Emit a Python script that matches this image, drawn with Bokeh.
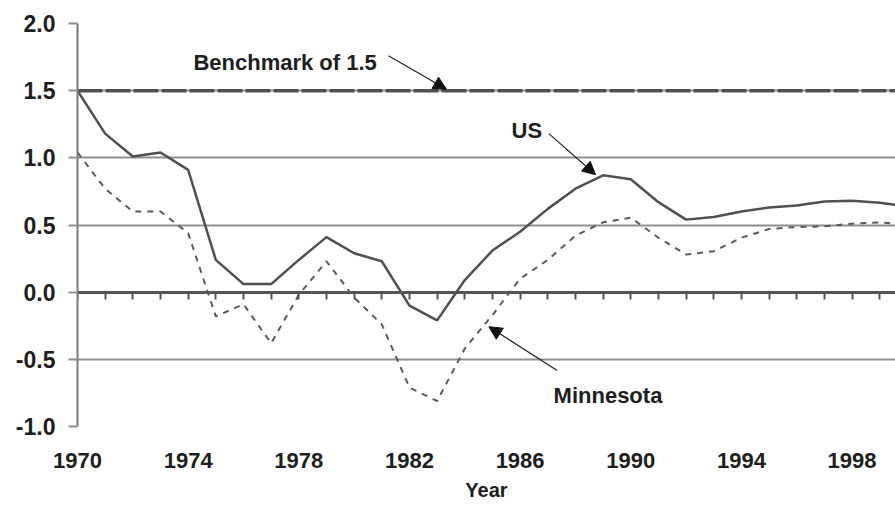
from bokeh.plotting import figure
from bokeh.models import Range1d, FixedTicker, LinearAxis, Label, Arrow, NormalHead, Title
from bokeh.embed import file_html
from bokeh.resources import INLINE

# ---- data ----
years = list(range(1970, 2001))
us = [1.50, 1.18, 1.01, 1.04, 0.91, 0.24, 0.06, 0.06, 0.24, 0.41,
      0.29, 0.23, -0.10, -0.21, 0.09, 0.31, 0.45, 0.62, 0.77, 0.87,
      0.84, 0.67, 0.54, 0.56, 0.60, 0.63, 0.645, 0.675, 0.68, 0.665, 0.64]
minnesota = [1.04, 0.77, 0.60, 0.60, 0.44, -0.18, -0.09, -0.38, -0.02, 0.23,
             -0.04, -0.24, -0.71, -0.81, -0.42, -0.17, 0.10, 0.24, 0.42, 0.52,
             0.555, 0.405, 0.28, 0.305, 0.405, 0.47, 0.485, 0.49, 0.51, 0.52, 0.50]
benchmark = 1.5
x_label_years = [1970, 1974, 1978, 1982, 1986, 1990, 1994, 1998]
y_ticks = [-1.0, -0.5, 0.0, 0.5, 1.0, 1.5, 2.0]
y_tick_labels = ["-1.0", "-0.5", "0.0", "0.5", "1.0", "1.5", "2.0"]

FONT = "Liberation Sans"
TXT = "#1e1e1e"
DARK = "#555555"

p = figure(width=895, height=508,
           x_range=Range1d(1970, 1999.57), y_range=Range1d(-1.0, 2.0),
           output_backend="svg", toolbar_location=None,
           min_border_left=77, min_border_right=0, min_border_top=23,
           min_border_bottom=82)
p.outline_line_color = None
p.background_fill_color = "white"
p.border_fill_color = "white"

# grid
p.xgrid.visible = False
p.ygrid.ticker = FixedTicker(ticks=y_ticks)
p.ygrid.grid_line_color = "#8f8f8f"
p.ygrid.grid_line_width = 2

# y axis
p.yaxis.ticker = FixedTicker(ticks=y_ticks)
p.yaxis.major_label_overrides = {t: l for t, l in zip(y_ticks, y_tick_labels)}
p.yaxis.axis_line_color = "#7a7a7a"
p.yaxis.axis_line_width = 2
p.yaxis.major_tick_line_color = "#8f8f8f"
p.yaxis.major_tick_line_width = 2
p.yaxis.major_tick_out = 9
p.yaxis.major_tick_in = 0
p.yaxis.minor_tick_line_color = None
p.yaxis.major_label_standoff = 13
p.yaxis.major_label_text_font = FONT
p.yaxis.major_label_text_font_style = "bold"
p.yaxis.major_label_text_font_size = "23px"
p.yaxis.major_label_text_color = TXT

# x axis (labels only, below the plot)
p.xaxis.ticker = FixedTicker(ticks=x_label_years)
p.xaxis.axis_line_color = None
p.xaxis.major_tick_line_color = None
p.xaxis.minor_tick_line_color = None
p.xaxis.major_tick_out = 0
p.xaxis.major_tick_in = 0
p.xaxis.major_label_standoff = 26
p.xaxis.major_label_text_font = FONT
p.xaxis.major_label_text_font_style = "bold"
p.xaxis.major_label_text_font_size = "22px"
p.xaxis.major_label_text_color = TXT

# x axis line with yearly ticks at y = 0
tick_axis = LinearAxis(fixed_location=0, ticker=FixedTicker(ticks=years),
                       axis_line_color=DARK, axis_line_width=3,
                       major_tick_line_color=DARK, major_tick_line_width=2,
                       major_tick_out=7, major_tick_in=0,
                       minor_tick_line_color=None,
                       major_label_standoff=0,
                       major_label_text_font_size="1px",
                       major_label_text_color=None)
p.add_layout(tick_axis, "below")

# axis title
p.add_layout(Title(text="Year", align="center", offset=-45, standoff=13,
                   text_font=FONT, text_font_style="bold",
                   text_font_size="20px", text_color=TXT), "below")

# series
p.line(years, [benchmark] * len(years), line_color="#505050", line_width=3.5,
       line_dash="25 3")
p.line(years, minnesota, line_color="#5a5a5a", line_width=2, line_dash="6 6")
p.line(years, us, line_color="#505050", line_width=2.5)

# annotations
def lab(x, y, text, size="22px", align="left"):
    p.add_layout(Label(x=x, y=y, text=text, text_font=FONT,
                       text_font_style="bold", text_font_size=size,
                       text_color=TXT, text_align=align,
                       text_baseline="alphabetic"))

lab(1974.19, 1.71, "Benchmark of 1.5")
lab(1985.69, 1.20, "US")
lab(1987.21, -0.77, "Minnesota")

def arr(x0, y0, x1, y1):
    p.add_layout(Arrow(x_start=x0, y_start=y0, x_end=x1, y_end=y1,
                       line_color="#222222", line_width=1.2,
                       end=NormalHead(size=13, fill_color="#111111",
                                      line_color="#111111", line_width=1)))

arr(1981.24, 1.76, 1983.34, 1.51)
arr(1987.04, 1.18, 1988.73, 0.874)
arr(1987.34, -0.584, 1984.87, -0.257)

open("out.html", "w").write(file_html(p, INLINE))
